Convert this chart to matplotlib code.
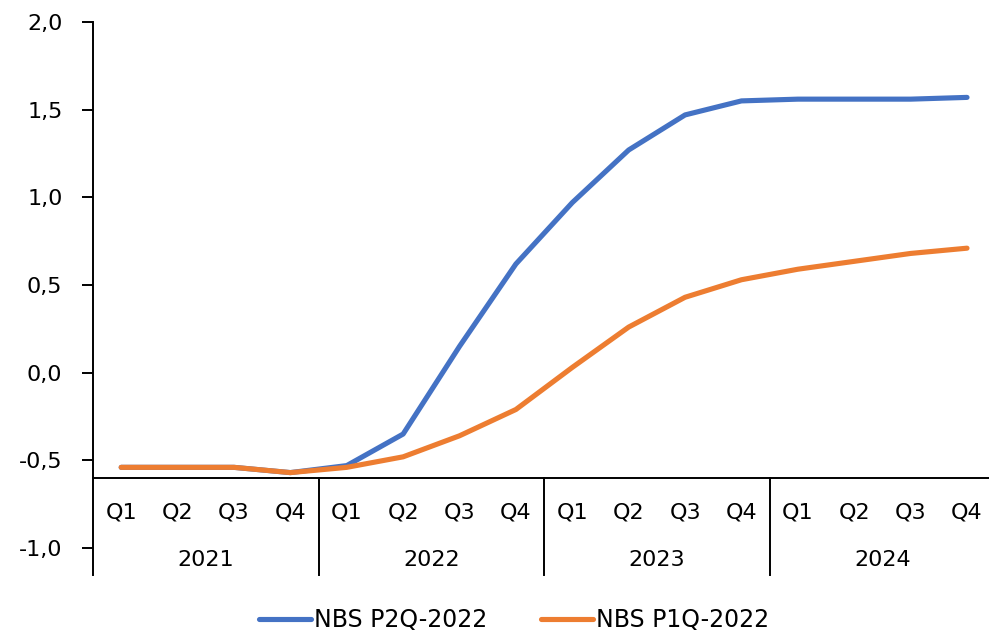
import matplotlib.pyplot as plt
import matplotlib.ticker as mticker

years = ['2021', '2022', '2023', '2024']
quarters = ['Q1', 'Q2', 'Q3', 'Q4']
nbs_p2q = [-0.54, -0.54, -0.54, -0.57,
           -0.53, -0.35, 0.15, 0.62,
           0.97, 1.27, 1.47, 1.55,
           1.56, 1.56, 1.56, 1.57]
nbs_p1q = [-0.54, -0.54, -0.54, -0.57,
           -0.54, -0.48, -0.36, -0.21,
           0.03, 0.26, 0.43, 0.53,
           0.59, 0.635, 0.68, 0.71]

blue = '#4472C4'
orange = '#ED7D31'
axis_y = -0.6
ymin = -1.154
fs = 16

plt.rcParams['font.family'] = ['DejaVu Sans']
fig = plt.figure(figsize=(9.89, 6.35), dpi=100)
ax = fig.add_axes([93 / 989, 60 / 635, 1 - 93 / 989, 1 - 22 / 635 - 60 / 635])

x = list(range(len(nbs_p2q)))
ax.plot(x, nbs_p2q, color=blue, lw=3.7, solid_capstyle='round', label='NBS P2Q-2022')
ax.plot(x, nbs_p1q, color=orange, lw=3.7, solid_capstyle='round', label='NBS P1Q-2022')

ax.set_xlim(-0.5, 15.39)
ax.set_ylim(ymin, 2.0)
ax.set_yticks([-1.0, -0.5, 0.0, 0.5, 1.0, 1.5, 2.0])
ax.yaxis.set_major_formatter(mticker.FuncFormatter(lambda v, p: f'{v:.1f}'.replace('.', ',')))
ax.tick_params(axis='y', length=8, width=1.4, labelsize=fs, pad=14)
ax.set_xticks([])

for s in ['top', 'right', 'bottom']:
    ax.spines[s].set_visible(False)
ax.spines['left'].set_linewidth(1.4)

# category axis with quarter / year labels
ax.axhline(axis_y, color='black', lw=1.4, clip_on=False)
for i, yr in enumerate(years):
    for j, q in enumerate(quarters):
        ax.text(i * 4 + j, -0.797, q, ha='center', va='center', fontsize=fs)
    ax.text(i * 4 + 1.5, -1.07, yr, ha='center', va='center', fontsize=fs)
    if i > 0:
        ax.plot([i * 4 - 0.5] * 2, [axis_y, ymin], color='black', lw=1.4, clip_on=False)

fig.legend(loc='center', bbox_to_anchor=(514 / 989, 1 - 620 / 635), ncol=2,
           frameon=False, fontsize=17, handlelength=2.2, handletextpad=0.1,
           columnspacing=2.3)

fig.savefig('out.png', dpi=100)
